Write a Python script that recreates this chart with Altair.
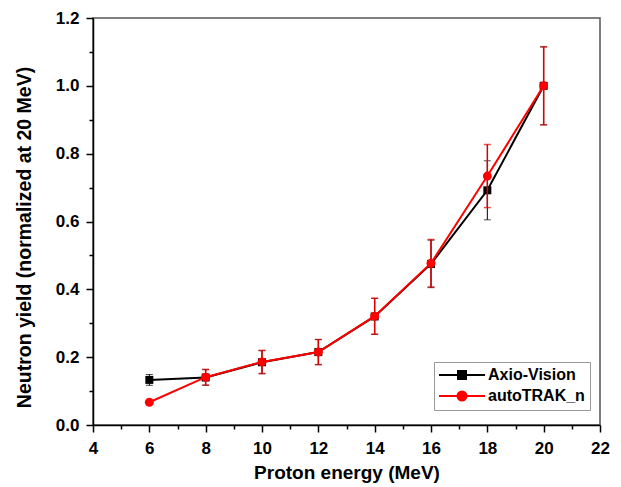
import altair as alt
import pandas as pd

# ---- data ----
energy = [6, 8, 10, 12, 14, 16, 18, 20]
axio_vals = [0.133, 0.140, 0.185, 0.215, 0.320, 0.475, 0.692, 1.000]
axio_errs = [0.016, 0.023, 0.034, 0.037, 0.053, 0.070, 0.087, 0.115]
trak_vals = [0.067, 0.141, 0.186, 0.215, 0.321, 0.477, 0.734, 1.000]
trak_errs = [0.004, 0.023, 0.034, 0.037, 0.053, 0.070, 0.093, 0.115]

series_names = ["Axio-Vision", "autoTRAK_n"]
series_colors = ["#000000", "#ff0000"]
errbar_colors = ["#000000", "#dd0000"]

x_ticks = list(range(4, 23))
y_ticks = [round(i * 0.1, 1) for i in range(13)]

rows = []
for name, vals, errs in [(series_names[0], axio_vals, axio_errs),
                         (series_names[1], trak_vals, trak_errs)]:
    for e, v, d in zip(energy, vals, errs):
        rows.append({"series": name, "energy": e, "value": v,
                     "lo": v - d, "hi": v + d})
df = pd.DataFrame(rows)

FONT = "Liberation Sans"

x_scale = alt.Scale(domain=[4, 22], nice=False, zero=False)
y_scale = alt.Scale(domain=[0, 1.2], nice=False)

x_axis = alt.Axis(
    values=x_ticks,
    tickSize={"condition": {"test": "datum.value % 2 === 0", "value": 7}, "value": 4},
    labelExpr="datum.value % 2 === 0 ? datum.label : ''",
    format="d",
    labelFont=FONT, labelFontSize=17, labelFontWeight="bold", labelColor="black",
    labelPadding=8, labelOverlap=False, labelFlush=False,
    title="Proton energy (MeV)", titleFont=FONT, titleFontSize=19,
    titleFontWeight="bold", titleColor="black",
    titleBaseline="alphabetic", titleY=53,
    domainColor="black", domainWidth=1.5, tickColor="black", tickWidth=1.5,
    grid=False,
)
y_axis = alt.Axis(
    values=y_ticks,
    tickSize={"condition": {"test": "round(datum.value * 10) % 2 === 0", "value": 7}, "value": 4},
    labelExpr="round(datum.value * 10) % 2 === 0 ? datum.label : ''",
    format=".1f",
    labelFont=FONT, labelFontSize=17, labelFontWeight="bold", labelColor="black",
    labelPadding=7, labelOverlap=False, labelFlush=False,
    title="Neutron yield (normalized at 20 MeV)", titleFont=FONT, titleFontSize=19.5,
    titleFontWeight="bold", titleColor="black",
    titleBaseline="alphabetic", titleX=-63, titleY=219, titleAngle=270,
    domainColor="black", domainWidth=1.5, tickColor="black", tickWidth=1.5,
    grid=False,
)

base = alt.Chart(df)


def X(field):
    return alt.X(field, scale=x_scale, axis=x_axis)


def Y(field):
    return alt.Y(field, scale=y_scale, axis=y_axis)


def series_layers(idx):
    name = series_names[idx]
    col = series_colors[idx]
    ecol = errbar_colors[idx]
    rule_w = 1 if idx == 0 else 1.5
    cap_t = 1 if idx == 0 else 1.5
    sub = base.transform_filter(alt.datum.series == name)
    line = sub.mark_line(color=col, strokeWidth=2).encode(x=X("energy:Q"), y=Y("value:Q"))
    rule = sub.mark_rule(color=ecol, strokeWidth=rule_w).encode(
        x=X("energy:Q"), y=Y("lo:Q"), y2="hi:Q")
    cap_lo = sub.mark_tick(color=ecol, thickness=cap_t, size=7, orient="horizontal").encode(
        x=X("energy:Q"), y=Y("lo:Q"))
    cap_hi = sub.mark_tick(color=ecol, thickness=cap_t, size=7, orient="horizontal").encode(
        x=X("energy:Q"), y=Y("hi:Q"))
    if idx == 0:
        pts = sub.mark_square(color=col, size=64, opacity=1).encode(
            x=X("energy:Q"), y=Y("value:Q"))
    else:
        pts = sub.mark_circle(color=col, size=80, opacity=1).encode(
            x=X("energy:Q"), y=Y("value:Q"))
    return [line, rule, cap_lo, cap_hi, pts]


sq_path = "M-4.6,0H4.6M-0.8,-0.8H0.8V0.8H-0.8Z"
ci_path = "M-4.6,0H4.6M-0.9,0A0.9,0.9,0,1,1,0.9,0A0.9,0.9,0,1,1,-0.9,0Z"

leg = alt.Legend(
    title=None, orient="none", legendX=341, legendY=344,
    labelFont=FONT, labelFontSize=16, labelFontWeight="bold", labelColor="black",
    symbolSize=100, symbolStrokeWidth=2, symbolOffset=15, labelOffset=18,
    rowPadding=4, padding=5, strokeColor="#999999", fillColor="white",
)

legend_layer = base.transform_filter("false").mark_point(filled=True, opacity=1).encode(
    x=X("energy:Q"),
    y=Y("value:Q"),
    shape=alt.Shape("series:N", scale=alt.Scale(domain=series_names, range=[sq_path, ci_path]), legend=leg),
    fill=alt.Fill("series:N", scale=alt.Scale(domain=series_names, range=series_colors), legend=leg),
    stroke=alt.Stroke("series:N", scale=alt.Scale(domain=series_names, range=series_colors), legend=leg),
)

layers = series_layers(0) + series_layers(1) + [legend_layer]

chart = alt.layer(*layers).properties(
    width=507, height=407,
    autosize=alt.AutoSizeParams(type="none"),
    padding={"left": 85, "top": 10, "right": 10, "bottom": 62},
    background="white",
).configure_view(stroke="#555555", strokeWidth=1.5)

chart.save("out.html", embed_options={"renderer": "svg", "actions": False})
